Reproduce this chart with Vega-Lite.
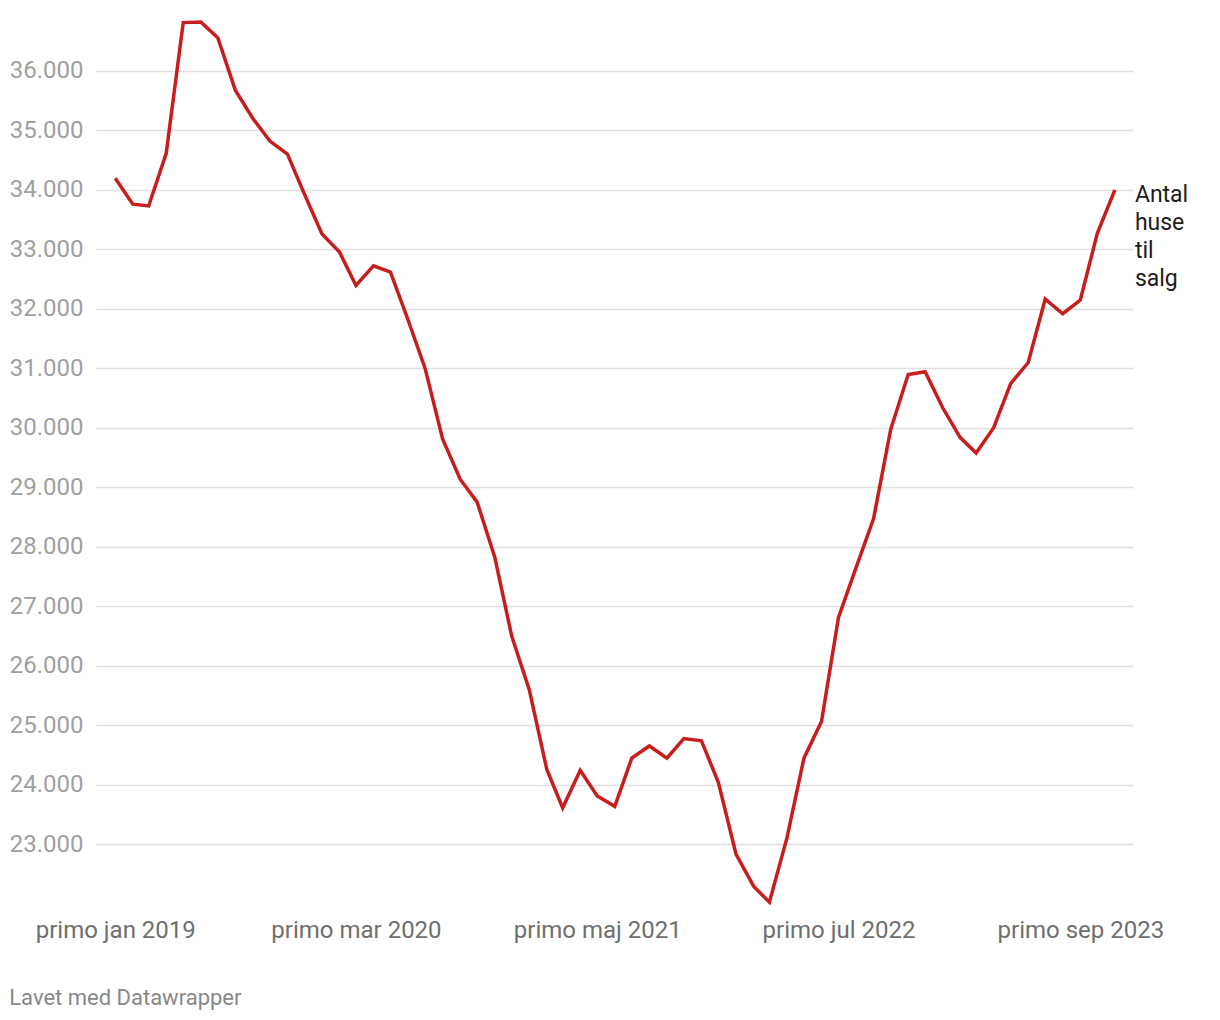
{
  "$schema": "https://vega.github.io/schema/vega-lite/v6.json",
  "autosize": "none",
  "width": 1037,
  "height": 893,
  "padding": {"left": 96, "top": 11, "right": 87, "bottom": 116},
  "background": "white",
  "title": {
    "text": "Lavet med Datawrapper",
    "orient": "bottom",
    "anchor": "start",
    "frame": "bounds",
    "offset": 46,
    "fontSize": 22,
    "fontWeight": "normal",
    "color": "#888888",
    "font": "Roboto"
  },
  "data": {
    "values": [
      {"date": "2019-01-01T00:00:00", "value": 34190},
      {"date": "2019-02-01T00:00:00", "value": 33755},
      {"date": "2019-03-01T00:00:00", "value": 33725},
      {"date": "2019-04-01T00:00:00", "value": 34610},
      {"date": "2019-05-01T00:00:00", "value": 36805},
      {"date": "2019-06-01T00:00:00", "value": 36815},
      {"date": "2019-07-01T00:00:00", "value": 36550},
      {"date": "2019-08-01T00:00:00", "value": 35670},
      {"date": "2019-09-01T00:00:00", "value": 35195},
      {"date": "2019-10-01T00:00:00", "value": 34815},
      {"date": "2019-11-01T00:00:00", "value": 34595},
      {"date": "2019-12-01T00:00:00", "value": 33925},
      {"date": "2020-01-01T00:00:00", "value": 33255},
      {"date": "2020-02-01T00:00:00", "value": 32950},
      {"date": "2020-03-01T00:00:00", "value": 32390},
      {"date": "2020-04-01T00:00:00", "value": 32720},
      {"date": "2020-05-01T00:00:00", "value": 32615},
      {"date": "2020-06-01T00:00:00", "value": 31810},
      {"date": "2020-07-01T00:00:00", "value": 31000},
      {"date": "2020-08-01T00:00:00", "value": 29810},
      {"date": "2020-09-01T00:00:00", "value": 29135},
      {"date": "2020-10-01T00:00:00", "value": 28750},
      {"date": "2020-11-01T00:00:00", "value": 27830},
      {"date": "2020-12-01T00:00:00", "value": 26500},
      {"date": "2021-01-01T00:00:00", "value": 25600},
      {"date": "2021-02-01T00:00:00", "value": 24260},
      {"date": "2021-03-01T00:00:00", "value": 23615},
      {"date": "2021-04-01T00:00:00", "value": 24245},
      {"date": "2021-05-01T00:00:00", "value": 23815},
      {"date": "2021-06-01T00:00:00", "value": 23640},
      {"date": "2021-07-01T00:00:00", "value": 24450},
      {"date": "2021-08-01T00:00:00", "value": 24655},
      {"date": "2021-09-01T00:00:00", "value": 24450},
      {"date": "2021-10-01T00:00:00", "value": 24780},
      {"date": "2021-11-01T00:00:00", "value": 24740},
      {"date": "2021-12-01T00:00:00", "value": 24040},
      {"date": "2022-01-01T00:00:00", "value": 22840},
      {"date": "2022-02-01T00:00:00", "value": 22300},
      {"date": "2022-03-01T00:00:00", "value": 22030},
      {"date": "2022-04-01T00:00:00", "value": 23110},
      {"date": "2022-05-01T00:00:00", "value": 24450},
      {"date": "2022-06-01T00:00:00", "value": 25065},
      {"date": "2022-07-01T00:00:00", "value": 26815},
      {"date": "2022-08-01T00:00:00", "value": 27650},
      {"date": "2022-09-01T00:00:00", "value": 28475},
      {"date": "2022-10-01T00:00:00", "value": 29965},
      {"date": "2022-11-01T00:00:00", "value": 30895},
      {"date": "2022-12-01T00:00:00", "value": 30940},
      {"date": "2023-01-01T00:00:00", "value": 30335},
      {"date": "2023-02-01T00:00:00", "value": 29835},
      {"date": "2023-03-01T00:00:00", "value": 29575},
      {"date": "2023-04-01T00:00:00", "value": 30000},
      {"date": "2023-05-01T00:00:00", "value": 30740},
      {"date": "2023-06-01T00:00:00", "value": 31095},
      {"date": "2023-07-01T00:00:00", "value": 32160},
      {"date": "2023-08-01T00:00:00", "value": 31915},
      {"date": "2023-09-01T00:00:00", "value": 32145},
      {"date": "2023-10-01T00:00:00", "value": 33265},
      {"date": "2023-11-01T00:00:00", "value": 33995}
    ]
  },
  "encoding": {
    "x": {
      "field": "date",
      "type": "temporal",
      "scale": {
        "domain": [
          {"year": 2018, "month": 11, "date": 28},
          {"year": 2023, "month": 12, "date": 3}
        ]
      },
      "axis": {
        "title": null,
        "grid": false,
        "domain": false,
        "ticks": false,
        "values": [
          {"year": 2019, "month": 1, "date": 1},
          {"year": 2020, "month": 3, "date": 1},
          {"year": 2021, "month": 5, "date": 1},
          {"year": 2022, "month": 7, "date": 1},
          {"year": 2023, "month": 9, "date": 1}
        ],
        "format": "primo %b %Y",
        "labelFontSize": 24,
        "labelFont": "Roboto",
        "labelColor": "#6f6f6f",
        "labelPadding": 14,
        "labelFlush": false,
        "labelOverlap": false
      }
    },
    "y": {
      "field": "value",
      "type": "quantitative",
      "scale": {"domain": [22000, 37000], "nice": false, "zero": false},
      "axis": {
        "title": null,
        "domain": false,
        "ticks": false,
        "values": [23000, 24000, 25000, 26000, 27000, 28000, 29000, 30000, 31000, 32000, 33000, 34000, 35000, 36000],
        "format": ",.0f",
        "labelFontSize": 24,
        "labelFont": "Roboto",
        "labelColor": "#a0a0a0",
        "labelPadding": 13,
        "gridColor": "#e0e0e0",
        "gridWidth": 1.3
      }
    }
  },
  "layer": [
    {
      "mark": {"type": "line", "color": "#c71e1d", "strokeWidth": 3.5, "strokeJoin": "miter", "strokeCap": "butt"}
    },
    {
      "transform": [
        {"filter": {"field": "date", "timeUnit": "yearmonth", "equal": {"year": 2023, "month": 11}}}
      ],
      "mark": {
        "type": "text",
        "text": ["Antal", "huse", "til", "salg"],
        "align": "left",
        "baseline": "alphabetic",
        "dx": 20,
        "dy": 12,
        "fontSize": 23,
        "lineHeight": 28,
        "font": "Roboto",
        "color": "#1d1d1d"
      }
    }
  ],
  "config": {
    "view": {"stroke": null},
    "locale": {
      "number": {"decimal": ",", "thousands": ".", "grouping": [3], "currency": ["", " kr."]},
      "time": {
        "dateTime": "%A den %d %B %Y %X",
        "date": "%d-%m-%Y",
        "time": "%H:%M:%S",
        "periods": ["AM", "PM"],
        "days": ["søndag", "mandag", "tirsdag", "onsdag", "torsdag", "fredag", "lørdag"],
        "shortDays": ["søn", "man", "tir", "ons", "tor", "fre", "lør"],
        "months": ["januar", "februar", "marts", "april", "maj", "juni", "juli", "august", "september", "oktober", "november", "december"],
        "shortMonths": ["jan", "feb", "mar", "apr", "maj", "jun", "jul", "aug", "sep", "okt", "nov", "dec"]
      }
    }
  }
}
